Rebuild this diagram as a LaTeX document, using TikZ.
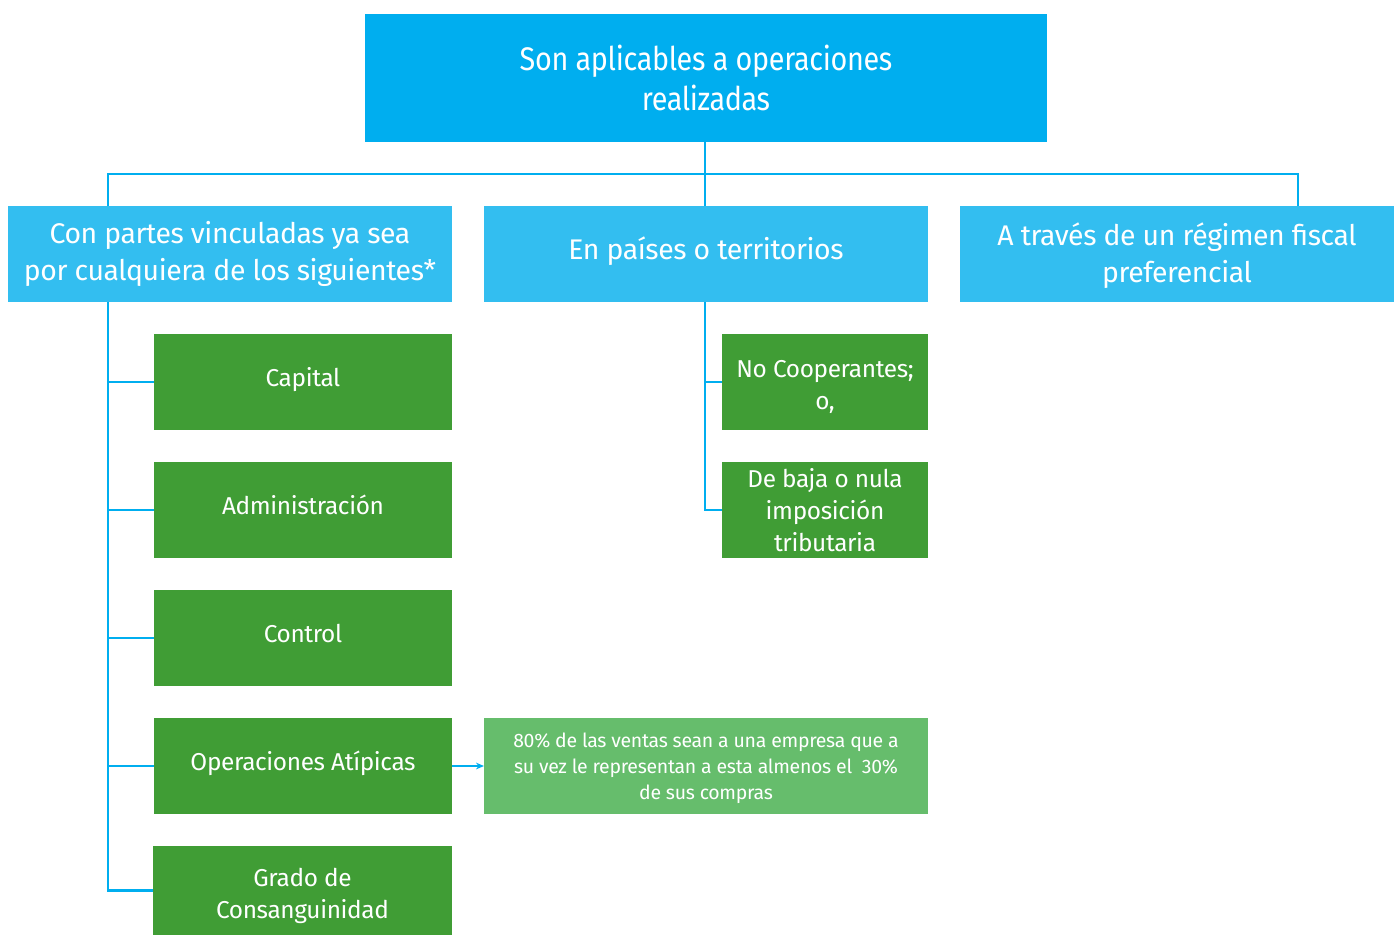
\documentclass[tikz,border=0pt]{standalone}
\usepackage{fontspec}
\setmainfont{Fira Sans}[LetterSpace=-1.5]
\newfontfamily\condfont{Fira Sans}[FakeStretch=0.88,LetterSpace=-1]
\usetikzlibrary{arrows.meta}
\definecolor{topblue}{RGB}{0,174,239}
\definecolor{midblue}{RGB}{51,190,240}
\definecolor{dgreen}{RGB}{64,157,53}
\definecolor{lgreen}{RGB}{102,189,108}
\definecolor{linec}{RGB}{0,174,239}
\tikzset{
  x=0.75pt, y=-0.75pt,
  boxbase/.style={inner sep=0pt, outer sep=0pt, text=white, align=center, anchor=north west},
  topbox/.style={boxbase, fill=topblue, font=\condfont\fontsize{24.5}{29.5}\selectfont},
  midbox/.style={boxbase, fill=midblue, font=\fontsize{21.3}{27.8}\selectfont},
  greenbox/.style={boxbase, fill=dgreen, font=\fontsize{18.3}{24}\selectfont},
  oneline/.style={text height=11pt, text depth=5pt},
  lgbox/.style={boxbase, fill=lgreen, font=\fontsize{14.6}{19.5}\selectfont},
  conn/.style={draw=linec, line width=2.2pt},
}
\begin{document}
\begin{tikzpicture}
\useasboundingbox (0,0) rectangle (1394,935);
% top
\node[topbox, minimum width=682*0.75pt, minimum height=128*0.75pt] (top) at (365,14) {Son aplicables a operaciones\\realizadas};
% second row
\node[midbox, minimum width=444*0.75pt, minimum height=96*0.75pt] (left) at (8,206) {Con partes vinculadas ya sea\\por cualquiera de los siguientes*\rule[-4pt]{0pt}{1pt}};
\node[midbox, minimum width=444*0.75pt, minimum height=96*0.75pt, text height=13pt, text depth=5pt] (mid) at (484,206) {En países o territorios};
\node[midbox, minimum width=434*0.75pt, minimum height=96*0.75pt] (right) at (960,206) {\rule{0pt}{20pt}A través de un régimen fiscal\\preferencial};
% left green
\node[greenbox, oneline, minimum width=298*0.75pt, minimum height=96*0.75pt] (g1) at (154,334) {Capital};
\node[greenbox, oneline, minimum width=298*0.75pt, minimum height=96*0.75pt] (g2) at (154,462) {Administración};
\node[greenbox, oneline, minimum width=298*0.75pt, minimum height=96*0.75pt] (g3) at (154,590) {Control};
\node[greenbox, oneline, minimum width=298*0.75pt, minimum height=96*0.75pt] (g4) at (154,718) {Operaciones Atípicas};
\node[greenbox, minimum width=299*0.75pt, minimum height=89*0.75pt] (g5) at (153,846) {\rule{0pt}{22pt}Grado de\\Consanguinidad};
% middle green
\node[greenbox, minimum width=206*0.75pt, minimum height=96*0.75pt] (m1) at (722,334) {\rule{0pt}{20pt}No Cooperantes;\\o,};
\node[greenbox, minimum width=206*0.75pt, minimum height=96*0.75pt] (m2) at (722,462) {De baja o nula\\imposición\\tributaria};
% light green
\node[lgbox, minimum width=444*0.75pt, minimum height=96*0.75pt] (lg) at (484,718) {\rule{0pt}{14pt}80\% de las ventas sean a una empresa que a\\su vez le representan a esta almenos el \ 30\%\\de sus compras};
% connectors
\coordinate (hb) at (705,174);
\draw[conn] (top.south -| hb) -- (mid.north -| hb);
\draw[conn] (left.north -| 108,0) |- (hb) -| (right.north -| 1298,0);
\coordinate (ls) at (108,302);
\draw[conn] (ls) |- (g5.west);
\foreach \n in {g1,g2,g3,g4}{\draw[conn] (108,0 |- \n.west) -- (\n.west);}
\draw[conn] (705,302) |- (m2.west);
\draw[conn] (705,0 |- m1.west) -- (m1.west);
\draw[draw=linec, line width=1.5pt, -{Stealth[length=6pt,width=5pt]}] (g4.east) -- (lg.west);
\end{tikzpicture}
\end{document}
